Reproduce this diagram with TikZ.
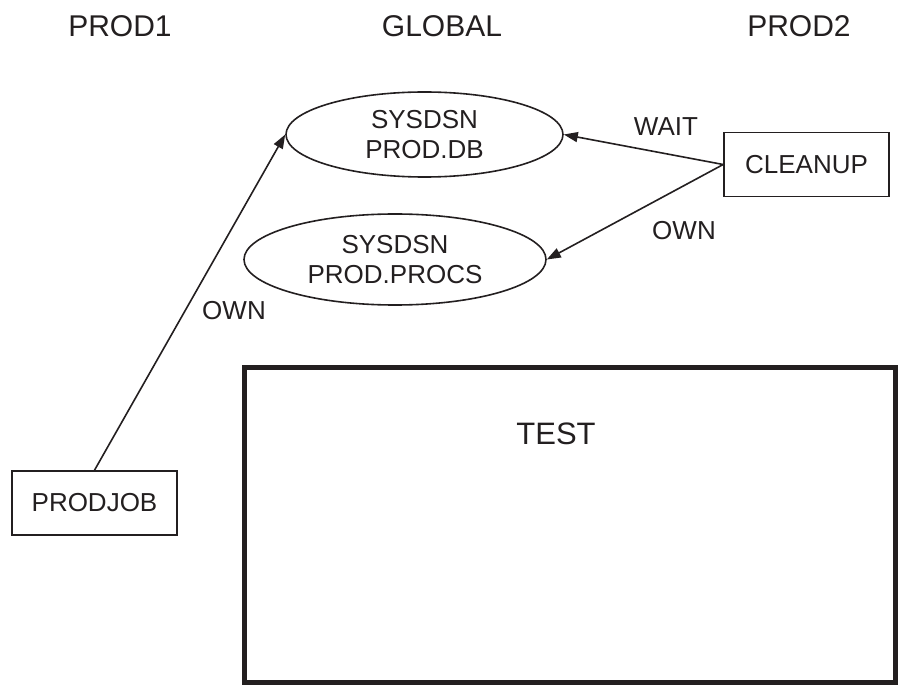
\documentclass[tikz,border=0pt]{standalone}
\usepackage{fontspec}
\setmainfont{Liberation Sans}
\usetikzlibrary{shapes.geometric,arrows.meta}
\definecolor{ink}{HTML}{231F20}
\tikzset{
  hdr/.style={font=\fontsize{30}{34}\selectfont, text=ink, inner sep=0pt},
  lbl/.style={font=\fontsize{26}{30}\selectfont, text=ink, inner sep=0pt},
  dsn/.style={ellipse, draw=ink, line width=1.6pt, inner sep=0pt, align=center,
              font=\fontsize{26}{30}\selectfont, text=ink},
  jobbox/.style={rectangle, draw=ink, line width=1.6pt, inner sep=0pt,
                 minimum width=165pt, minimum height=64pt,
                 font=\fontsize{26}{30}\selectfont, text=ink},
  sysbox/.style={rectangle, draw=ink, line width=5pt, inner sep=0pt},
  conn/.style={draw=ink, line width=1.6pt, -{Triangle[length=14pt,width=10pt]}}
}
\begin{document}
\begin{tikzpicture}[x=1pt,y=-1pt]
\useasboundingbox (0,0) rectangle (898,687);
% headers
\node[hdr] (prod1) at (120,26) {PROD1};
\node[hdr] (global) at (442,26) {GLOBAL};
\node[hdr] (prod2) at (799,26) {PROD2};
% resources
\node[dsn, minimum width=277pt, minimum height=85pt] (db) at (424.5,134.5) {SYSDSN\\PROD.DB};
\node[dsn, minimum width=302pt, minimum height=91pt] (procs) at (395,259.5) {SYSDSN\\PROD.PROCS};
% jobs
\node[jobbox] (cleanup) at (806.5,164.5) {CLEANUP};
\node[jobbox] (prodjob) at (94.5,503) {PRODJOB};
% TEST system
\node[sysbox, minimum width=651pt, minimum height=314pt] (test) at (569.5,525) {};
\node[font=\fontsize{31}{35}\selectfont, text=ink, inner sep=0pt] (testlbl) at (556,434) {TEST};
% connectors
\draw[conn] (prodjob.north) -- (db.west);
\draw[conn] (cleanup.west) -- (db.east);
\draw[conn] (cleanup.west) -- (procs.east);
% connector labels
\node[lbl] (own1) at (234,311) {OWN};
\node[lbl] (wait) at (666,127) {WAIT};
\node[lbl] (own2) at (684,231) {OWN};
\end{tikzpicture}
\end{document}
